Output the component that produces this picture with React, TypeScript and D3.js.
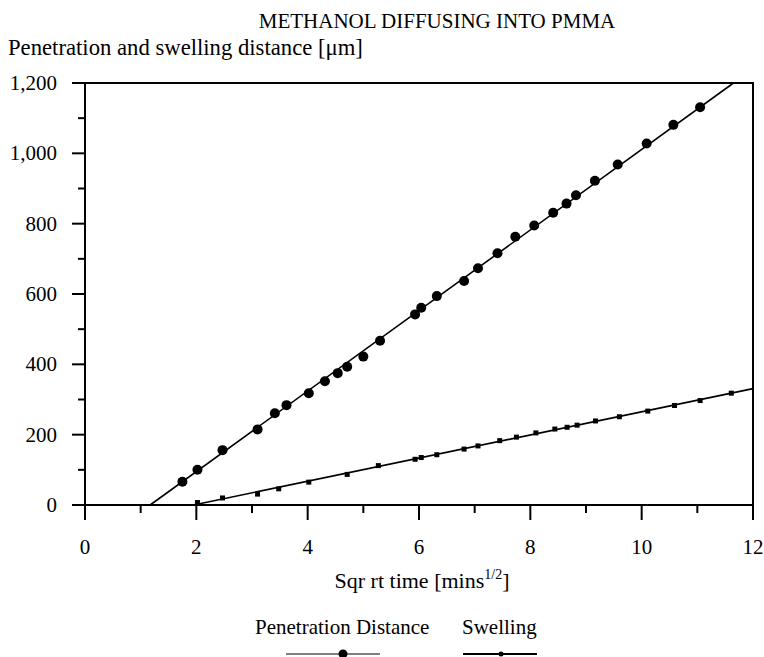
import React from "react";
import * as d3 from "d3";

// penetration distance (um) vs sqrt time (mins^1/2)
const penX = [1.75, 2.02, 2.47, 3.1, 3.41, 3.62, 4.02, 4.31, 4.54, 4.71, 5.0, 5.3, 5.93, 6.04, 6.32, 6.81, 7.06, 7.41, 7.73, 8.07, 8.41, 8.65, 8.82, 9.16, 9.57, 10.09, 10.57, 11.05];
const penY = [66, 100, 156, 215, 261, 284, 318, 352, 375, 393, 422, 467, 542, 561, 594, 637, 673, 716, 763, 795, 831, 857, 881, 922, 968, 1028, 1081, 1131];

// swelling distance (um)
const swX = [2.02, 2.47, 3.1, 3.48, 4.02, 4.71, 5.27, 5.93, 6.04, 6.32, 6.81, 7.06, 7.45, 7.75, 8.1, 8.44, 8.66, 8.84, 9.17, 9.6, 10.11, 10.59, 11.05, 11.61];
const swY = [7, 20, 31, 46, 65, 87, 112, 130, 135, 143, 159, 168, 183, 193, 205, 216, 221, 227, 239, 251, 267, 283, 297, 318];

// fitted lines [x, y]
const penFit: [number, number][] = [[1.17, 0], [11.65, 1200]];
const swFit: [number, number][] = [[1.95, 0], [12, 331]];

const xTicks = [0, 2, 4, 6, 8, 10, 12];
const yTicks = [0, 200, 400, 600, 800, 1000, 1200];

const font = "'Liberation Serif', 'Times New Roman', serif";

export default function App() {
  const W = 764, H = 657;
  const left = 85, right = 753, top = 83, bottom = 505;

  const x = d3.scaleLinear().domain([0, 12]).range([left, right]);
  const y = d3.scaleLinear().domain([0, 1200]).range([bottom, top]);
  const line = d3.line<[number, number]>().x((d) => x(d[0])).y((d) => y(d[1]));

  const xMinor = d3.range(0, 12.01, 1);
  const yMinor = d3.range(0, 1201, 100);

  return (
    <svg width={W} height={H} style={{ position: "absolute", left: 0, top: 0, background: "#fff" }} fontFamily={font}>
      <text x={437} y={28} textAnchor="middle" fontSize={21}>METHANOL DIFFUSING INTO PMMA</text>
      <text x={8} y={55} fontSize={22.7}>Penetration and swelling distance [μm]</text>

      {/* frame */}
      <rect x={left} y={top} width={right - left} height={bottom - top} fill="none" stroke="#000" strokeWidth={2} />

      {/* y ticks */}
      {yMinor.map((v) => (
        <line key={"ym" + v} x1={left} x2={left - (v % 200 === 0 ? 13 : 7)} y1={y(v)} y2={y(v)} stroke="#000" strokeWidth={2} />
      ))}
      {yTicks.map((v) => (
        <text key={"yt" + v} x={57} y={y(v) + 7} textAnchor="end" fontSize={21}>{d3.format(",")(v)}</text>
      ))}

      {/* x ticks */}
      {xMinor.map((v) => (
        <line key={"xm" + v} x1={x(v)} x2={x(v)} y1={bottom} y2={bottom + (v % 2 === 0 ? 15 : 8)} stroke="#000" strokeWidth={2} />
      ))}
      {xTicks.map((v) => (
        <text key={"xt" + v} x={x(v)} y={554} textAnchor="middle" fontSize={21}>{v}</text>
      ))}
      <text x={422} y={588} textAnchor="middle" fontSize={22}>
        Sqr rt time [mins<tspan dy={-9} fontSize={14}>1/2</tspan><tspan dy={9}>]</tspan>
      </text>

      {/* fits */}
      <path d={line(penFit) || ""} fill="none" stroke="#000" strokeWidth={1.6} />
      <path d={line(swFit) || ""} fill="none" stroke="#000" strokeWidth={1.6} />

      {penX.map((v, i) => (
        <circle key={"p" + i} cx={x(v)} cy={y(penY[i])} r={5} fill="#000" />
      ))}
      {swX.map((v, i) => (
        <rect key={"s" + i} x={x(v) - 2.5} y={y(swY[i]) - 2.5} width={5} height={5} fill="#000" />
      ))}

      {/* legend */}
      <text x={255} y={634} fontSize={21}>Penetration Distance</text>
      <text x={462} y={634} fontSize={21}>Swelling</text>
      <line x1={286} x2={380} y1={654} y2={654} stroke="#000" strokeWidth={1.2} />
      <circle cx={343} cy={654} r={4.5} fill="#000" />
      <line x1={463} x2={537} y1={654} y2={654} stroke="#000" strokeWidth={2} />
      <circle cx={501} cy={654} r={2.5} fill="#000" />
    </svg>
  );
}
